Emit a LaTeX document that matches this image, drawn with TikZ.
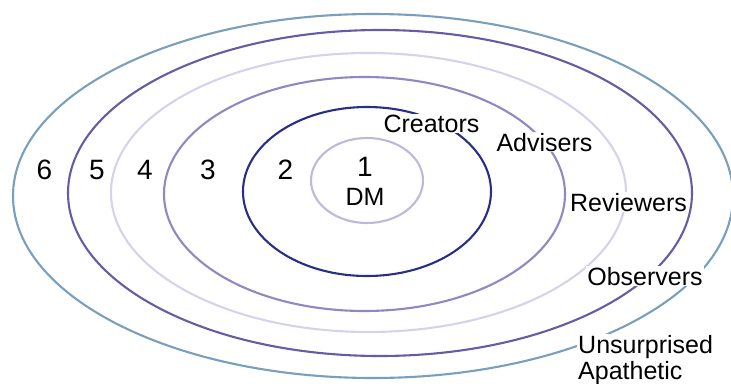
\documentclass[tikz,border=0pt]{standalone}
\usepackage{fontspec}
\setmainfont{Liberation Sans}
\definecolor{ringA}{HTML}{BEB9DC}
\definecolor{ringB}{HTML}{282D87}
\definecolor{ringC}{HTML}{9187C3}
\definecolor{ringD}{HTML}{D7D2EB}
\definecolor{ringE}{HTML}{695AA5}
\definecolor{ringF}{HTML}{78A0BE}
\begin{document}
\begin{tikzpicture}[x=1pt,y=-1pt,
  ring/.style={line width=2.1pt},
  lab/.style={font=\fontsize{25}{29}\selectfont, fill=white, inner sep=1pt},
  num/.style={font=\fontsize{28}{32}\selectfont, inner sep=0pt}]
\useasboundingbox (0,0) rectangle (731,383);
% rings
\draw[ring, ringF] (373,196) ellipse [x radius=360, y radius=182];
\draw[ring, ringE] (380,193) ellipse [x radius=312, y radius=163];
\draw[ring, ringD] (368.5,192.5) ellipse [x radius=257.5, y radius=139.5];
\draw[ring, ringC] (364.5,194) ellipse [x radius=200.5, y radius=117];
\draw[ring, ringB] (367,191.5) ellipse [x radius=124, y radius=84.5];
\draw[ring, ringA] (367,180.5) ellipse [x radius=56, y radius=42.5];
% numbers
\node[num] (n6) at (44.5,170) {6};
\node[num] (n5) at (97,170) {5};
\node[num] (n4) at (145,170) {4};
\node[num] (n3) at (208,170) {3};
\node[num] (n2) at (285.5,170) {2};
\node[num] (n1) at (365,167) {1};
\node[lab, fill=none] (dm) at (365,197) {DM};
% labels
\node[lab, anchor=base] (creators) at (431.5,132) {Creators};
\node[lab, anchor=base] (advisers) at (544.5,151) {Advisers};
\node[lab, anchor=base] (reviewers) at (628.5,211) {Reviewers};
\node[lab, anchor=base] (observers) at (645,285) {Observers};
\node[lab, anchor=base west] (unsurprised) at (577,353) {Unsurprised};
\node[lab, anchor=base west, fill=none] (apathetic) at (577,379) {Apathetic};
\end{tikzpicture}
\end{document}
